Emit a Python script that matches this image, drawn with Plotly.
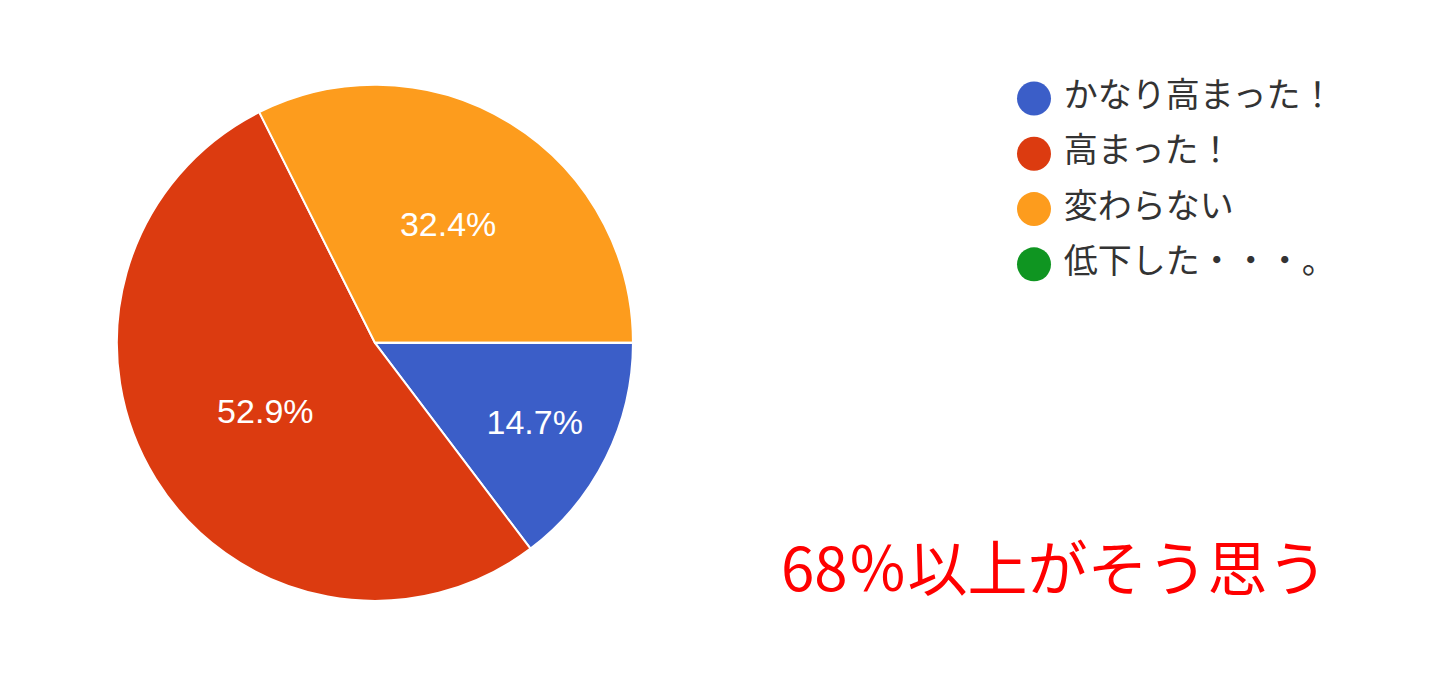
import plotly.graph_objects as go

categories = ["かなり高まった！", "高まった！", "変わらない", "低下した・・・。"]
shares = [14.7, 52.9, 32.4, 0.0]
colors = ["#3b5ec8", "#dc3b10", "#fd9c1d", "#0f9521"]
note_text = "68％以上がそう思う"

fig = go.Figure()

fig.add_trace(go.Pie(
    labels=categories,
    values=shares,
    sort=False,
    direction="clockwise",
    rotation=90,
    marker=dict(colors=colors, line=dict(color="white", width=2)),
    texttemplate=["%{percent:.1%}"] * 3 + [""],
    textposition="inside",
    insidetextorientation="horizontal",
    textfont=dict(family="Liberation Sans, Arial, sans-serif", size=34, color="white"),
    domain=dict(x=[0.0756, 0.4340], y=[0.141, 0.890]),
    showlegend=False,
    hoverinfo="label+percent",
))

# Legend drawn as a marker+text series on hidden axes
fig.add_trace(go.Scatter(
    x=[0] * len(categories),
    y=list(range(len(categories))),
    mode="markers+text",
    marker=dict(size=34, color=colors, line=dict(width=0)),
    text=[" " + c for c in categories],
    textposition="middle right",
    textfont=dict(family="Noto Sans CJK JP, sans-serif", size=34, color="#333333"),
    cliponaxis=False,
    showlegend=False,
    hoverinfo="skip",
))

fig.update_xaxes(domain=[0.7125, 0.98], range=[0, 1], visible=False, fixedrange=True)
fig.update_yaxes(domain=[0.589, 0.909], range=[3.5, -0.5], visible=False, fixedrange=True)

fig.add_annotation(
    text=note_text,
    xref="paper", yref="paper",
    x=0.727, y=0.195,
    xanchor="center", yanchor="middle",
    showarrow=False,
    font=dict(family="Noto Sans CJK JP, sans-serif", size=60, color="#ff0000"),
)

fig.update_layout(
    width=1440, height=691,
    margin=dict(l=0, r=0, t=0, b=0),
    paper_bgcolor="white",
    plot_bgcolor="white",
)

fig.write_html("out.html")
